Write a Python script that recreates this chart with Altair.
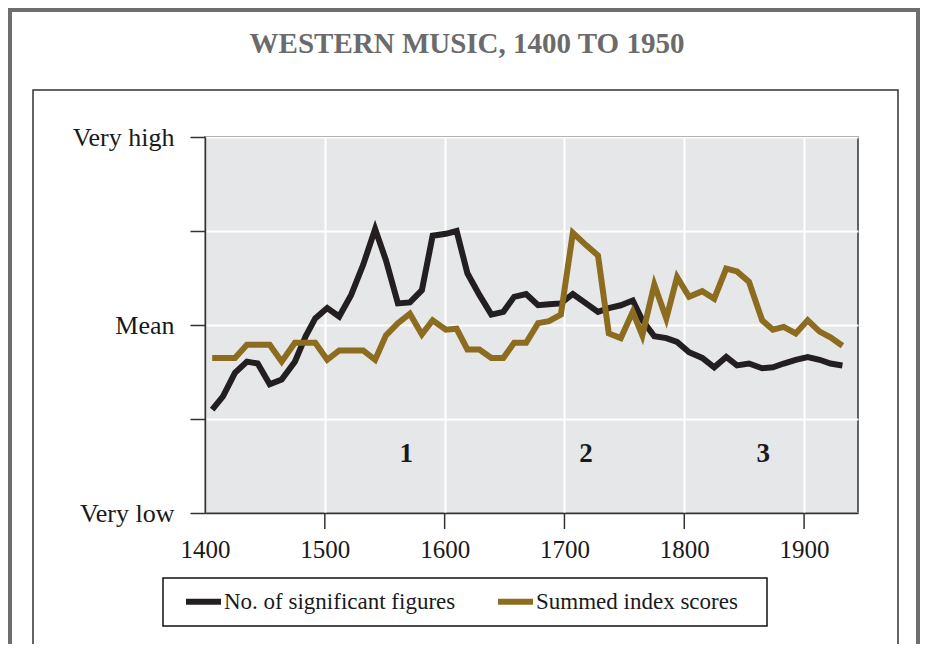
import altair as alt
import pandas as pd

# ---- data ----
years = [1406, 1415, 1425, 1435, 1444, 1454, 1464, 1475, 1484, 1492,
         1502, 1512, 1522, 1532, 1542, 1551, 1561, 1571, 1581, 1590,
         1601, 1610, 1619, 1629, 1639, 1649, 1658, 1668, 1678, 1687,
         1697, 1707, 1718, 1728, 1737, 1747, 1757, 1765, 1775, 1785,
         1794, 1804, 1815, 1825, 1835, 1844, 1854, 1865, 1874, 1883,
         1893, 1903, 1913, 1922, 1932]

sig_figures = [-0.90, -0.76, -0.51, -0.39, -0.41, -0.63, -0.58, -0.39, -0.12, 0.07,
               0.18, 0.09, 0.32, 0.64, 1.02, 0.69, 0.23, 0.24, 0.37, 0.95,
               0.97, 1.00, 0.55, 0.32, 0.11, 0.14, 0.30, 0.33, 0.21, 0.22,
               0.23, 0.33, 0.23, 0.14, 0.18, 0.21, 0.26, 0.05, -0.12, -0.14,
               -0.18, -0.29, -0.35, -0.45, -0.34, -0.43, -0.41, -0.46, -0.45, -0.41,
               -0.37, -0.34, -0.37, -0.41, -0.43]

index_scores = [-0.35, -0.35, -0.35, -0.21, -0.21, -0.21, -0.39, -0.19, -0.19, -0.19,
                -0.37, -0.27, -0.27, -0.27, -0.37, -0.11, 0.02, 0.12, -0.10, 0.05,
                -0.05, -0.04, -0.26, -0.26, -0.35, -0.35, -0.19, -0.19, 0.02, 0.04,
                0.11, 0.98, 0.85, 0.74, -0.09, -0.14, 0.14, -0.11, 0.43, 0.07,
                0.51, 0.30, 0.36, 0.28, 0.60, 0.57, 0.46, 0.05, -0.05, -0.02,
                -0.09, 0.05, -0.07, -0.13, -0.22]

series_names = ["No. of significant figures", "Summed index scores"]
series_colors = ["#231f20", "#8c6c1e"]

period_labels = ["1", "2", "3"]
period_years = [1568, 1718, 1866]
period_level = [-1.37, -1.37, -1.37]

y_tick_values = [-2, -1, 0, 1, 2]
x_tick_values = [1400, 1500, 1600, 1700, 1800, 1900]
x_tick_marks = [1500, 1600, 1700, 1800, 1900]
title_text = "WESTERN MUSIC, 1400 TO 1950"

# ---- tables ----
rows = []
for yr, a, b in zip(years, sig_figures, index_scores):
    rows.append({"year": yr, "value": a, "series": series_names[0]})
    rows.append({"year": yr, "value": b, "series": series_names[1]})
df = pd.DataFrame(rows)
periods = pd.DataFrame({"year": period_years, "value": period_level, "label": period_labels})
ticks_df = pd.DataFrame({"year": x_tick_marks})
one = pd.DataFrame({"a": [0]})

SERIF = "Liberation Serif"
FRAME = "#333333"

x_scale = alt.Scale(domain=[1400, 1945], nice=False, zero=False)
y_scale = alt.Scale(domain=[-2, 2], nice=False, zero=False)

x_axis = alt.Axis(
    values=x_tick_values, format="d", title=None,
    labelFont=SERIF, labelFontSize=25, labelColor="#1a1a1a", labelPadding=24,
    labelFlush=False,
    ticks=False,
    domainColor=FRAME, domainWidth=1.5,
    grid=True, gridColor="white", gridWidth=2,
)
y_axis = alt.Axis(
    values=y_tick_values, title=None,
    labelExpr="datum.value == 2 ? 'Very high' : datum.value == 0 ? 'Mean' : datum.value == -2 ? 'Very low' : ''",
    labelFont=SERIF, labelFontSize=26, labelColor="#1a1a1a", labelPadding=16,
    labelFlush=False,
    tickSize=15, tickColor=FRAME, tickWidth=1.5,
    domainColor=FRAME, domainWidth=1.5,
    grid=True, gridColor="white", gridWidth=2,
)

lines = alt.Chart(df).mark_line(strokeWidth=6, strokeJoin="miter", strokeCap="butt").encode(
    x=alt.X("year:Q", scale=x_scale, axis=x_axis),
    y=alt.Y("value:Q", scale=y_scale, axis=y_axis),
    color=alt.Color(
        "series:N",
        scale=alt.Scale(domain=series_names, range=series_colors),
        legend=alt.Legend(
            title=None, orient="none", legendX=-28, legendY=438,
            direction="horizontal",
            symbolType="stroke", symbolSize=1225, symbolStrokeWidth=6,
            labelOffset=0, labelLimit=400,
            labelFont=SERIF, labelFontSize=23, labelColor="#1a1a1a",
            columnPadding=30, padding=6,
        ),
    ),
    detail="series:N",
)

x_ticks = alt.Chart(ticks_df).mark_rule(color=FRAME, strokeWidth=1.5).encode(
    x=alt.X("year:Q", scale=x_scale), y=alt.value(376), y2=alt.value(392)
)

numbers = alt.Chart(periods).mark_text(
    font=SERIF, fontSize=27, fontWeight="bold", color="#1a1a1a", baseline="middle", align="center"
).encode(
    x=alt.X("year:Q", scale=x_scale),
    y=alt.Y("value:Q", scale=y_scale),
    text="label:N",
)

legend_box = alt.Chart(one).mark_rect(fill="white", stroke="#111111", strokeWidth=1.5).encode(
    x=alt.value(-42), x2=alt.value(562), y=alt.value(441), y2=alt.value(489)
)
inner_box = alt.Chart(one).mark_rect(fill=None, stroke=FRAME, strokeWidth=1.5).encode(
    x=alt.value(-172), x2=alt.value(693), y=alt.value(-47), y2=alt.value(516)
)
outer_frame = alt.Chart(one).mark_rect(fill=None, stroke="#6e6e6e", strokeWidth=4).encode(
    x=alt.value(-195), x2=alt.value(713), y=alt.value(-127), y2=alt.value(700)
)
title = alt.Chart(one).mark_text(
    text=title_text, font=SERIF, fontSize=29, fontWeight="bold", color="#6b6b6b",
    align="center", baseline="alphabetic"
).encode(x=alt.value(262), y=alt.value(-84))

chart = alt.layer(outer_frame, inner_box, legend_box, title, lines, x_ticks, numbers).properties(
    width=653, height=376,
    padding={"left": 197, "top": 129, "right": 62, "bottom": 131},
    autosize=alt.AutoSizeParams(type="none"),
    background="white",
).configure_view(
    fill="#e6e7e8", stroke=FRAME, strokeWidth=1.5
)

chart.save("out.html", embed_options={"renderer": "svg", "actions": False})
